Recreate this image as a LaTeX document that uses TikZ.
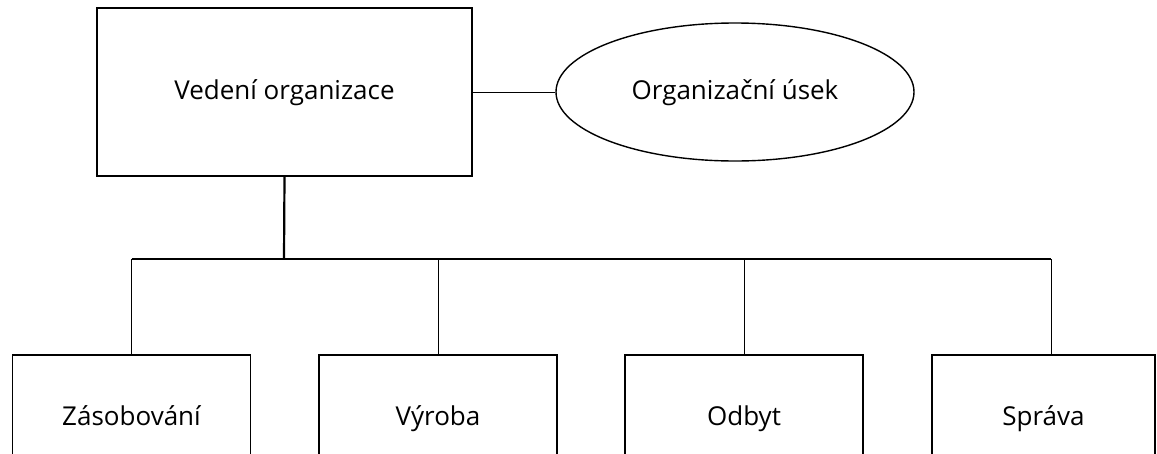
\documentclass[tikz,border=0pt]{standalone}
\usepackage{fontspec}
\setmainfont{Open Sans}
\usetikzlibrary{shapes.geometric}

\tikzset{
  unit/.style={draw, line width=1.3pt, inner sep=0pt,
    minimum width=238pt, minimum height=126pt,
    text height=20pt, text depth=6pt},
  link/.style={line width=1pt},
}

\begin{document}
\begin{tikzpicture}[x=1pt, y=-1pt,
            every node/.style={font=\fontsize{26}{30}\selectfont}]
        \useasboundingbox (0,0) rectangle (1157,453);

        % Vedeni a organizacni usek
        \node[unit, minimum width=375pt, minimum height=168pt] (ved) at (284.5,92) {Vedení organizace};
        \node[ellipse, draw, line width=1.4pt, inner sep=0pt,
            text height=20pt, text depth=6pt,
            minimum width=358pt, minimum height=138pt] (org) at (735,92) {Organizační úsek};
        \draw[link] (ved.east) -- (org.west);

        % Useky
        \node[unit] (zas) at (131.5,418) {Zásobování};
        \node[unit] (vyr) at (438,418) {Výroba};
        \node[unit] (odb) at (744,418) {Odbyt};
        \node[unit, minimum width=223pt] (spr) at (1043.5,418) {Správa};

        % Spojnice
        \coordinate (bus) at (284,259);
        \coordinate (sprtop) at ([xshift=7.5pt]spr.north);
        \draw[line width=2.2pt] (ved.south) -- (bus);
        \draw[line width=1.3pt] (zas.north |- bus) -- (sprtop |- bus);
        \foreach \n in {zas, vyr, odb}{
                \draw[link] (\n.north |- bus) -- (\n.north);
            }
        \draw[link] (sprtop |- bus) -- (sprtop);
    \end{tikzpicture}
\end{document}
